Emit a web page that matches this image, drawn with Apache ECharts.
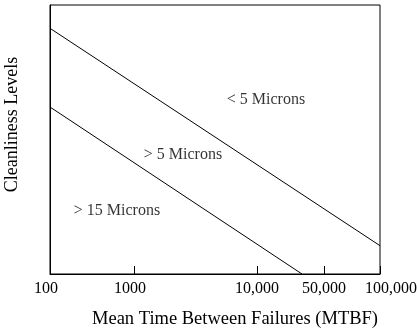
<!DOCTYPE html>
<html>
<head>
<meta charset="utf-8">
<script src="https://cdn.jsdelivr.net/npm/echarts@6/dist/echarts.min.js"></script>
<style>html,body{margin:0;padding:0;background:#fff}#c{width:417px;height:329px}</style>
</head>
<body>
<div id="c"></div>
<script>
// Schematic axis: tick positions (axis units along x) and their MTBF labels
const tickPositions = [0, 84, 207, 274, 330];
const tickLabels = ['100', '1000', '10,000', '50,000', '100,000'];
// Boundary lines (x in axis units, y in cleanliness units)
const line5 = [[0, 245.7], [330, 28.3]];
const line15 = [[0, 167], [252, 0]];
// Region labels
const regionNames = ['< 5 Microns', '> 5 Microns', '> 15 Microns'];
const regionX = [216, 133, 67];
const regionY = [174, 119, 63];

const FONT = 'Liberation Serif';
const chart = echarts.init(document.getElementById('c'), null, {renderer: 'canvas'});
const labelMap = {};
tickPositions.forEach((p, i) => labelMap[p] = i);
// small horizontal nudges of labels: [left pad, right pad]
const labelPad = [[0, 8], [0, 8], [0, 0], [0, 0], [22, 0]];

chart.setOption({
  animation: false,
  backgroundColor: '#fff',
  grid: {left: 50, right: 37, top: 5, bottom: 55, containLabel: false, outerBoundsMode: 'none',
    show: true, borderColor: '#000', borderWidth: 1, backgroundColor: 'transparent'},
  xAxis: {
    type: 'value', min: 0, max: 330,
    name: 'Mean Time Between Failures (MTBF)', nameLocation: 'middle', nameGap: 36,
    nameTextStyle: {fontFamily: FONT, fontSize: 18.5, color: '#000', padding: [0, 0, 0, 40]},
    axisLine: {show: true, lineStyle: {color: '#000', width: 1}},
    axisTick: {show: true, inside: true, length: 8, customValues: tickPositions, lineStyle: {color: '#000'}},
    axisLabel: {show: true, customValues: tickPositions, margin: 7, fontFamily: FONT, fontSize: 16, color: '#000',
      formatter: v => { const i = labelMap[v]; return i === undefined ? '' : '{t' + i + '|' + tickLabels[i] + '}'; },
      rich: Object.fromEntries(labelPad.map((p, i) => ['t' + i, {fontFamily: FONT, fontSize: 16, color: '#000', padding: [0, p[1], 0, p[0]]}]))},
    splitLine: {show: false}
  },
  yAxis: {
    type: 'value', min: 0, max: 269,
    name: 'Cleanliness Levels', nameLocation: 'middle', nameGap: 29,
    nameTextStyle: {fontFamily: FONT, fontSize: 18, color: '#000', padding: [0, 0, 0, 30]},
    axisLine: {show: true, lineStyle: {color: '#000', width: 1}},
    axisTick: {show: false}, axisLabel: {show: false}, splitLine: {show: false}
  },
  series: [
    {type: 'line', data: line5, symbol: 'none', lineStyle: {color: '#000', width: 1}},
    {type: 'line', data: line15, symbol: 'none', lineStyle: {color: '#000', width: 1}},
    {type: 'scatter', symbolSize: 0,
      data: regionNames.map((n, i) => ({name: n, value: [regionX[i], regionY[i]]})),
      label: {show: true, position: 'inside', formatter: p => p.name, fontFamily: FONT, fontSize: 16, color: '#000'}}
  ]
});
</script>
</body>
</html>
